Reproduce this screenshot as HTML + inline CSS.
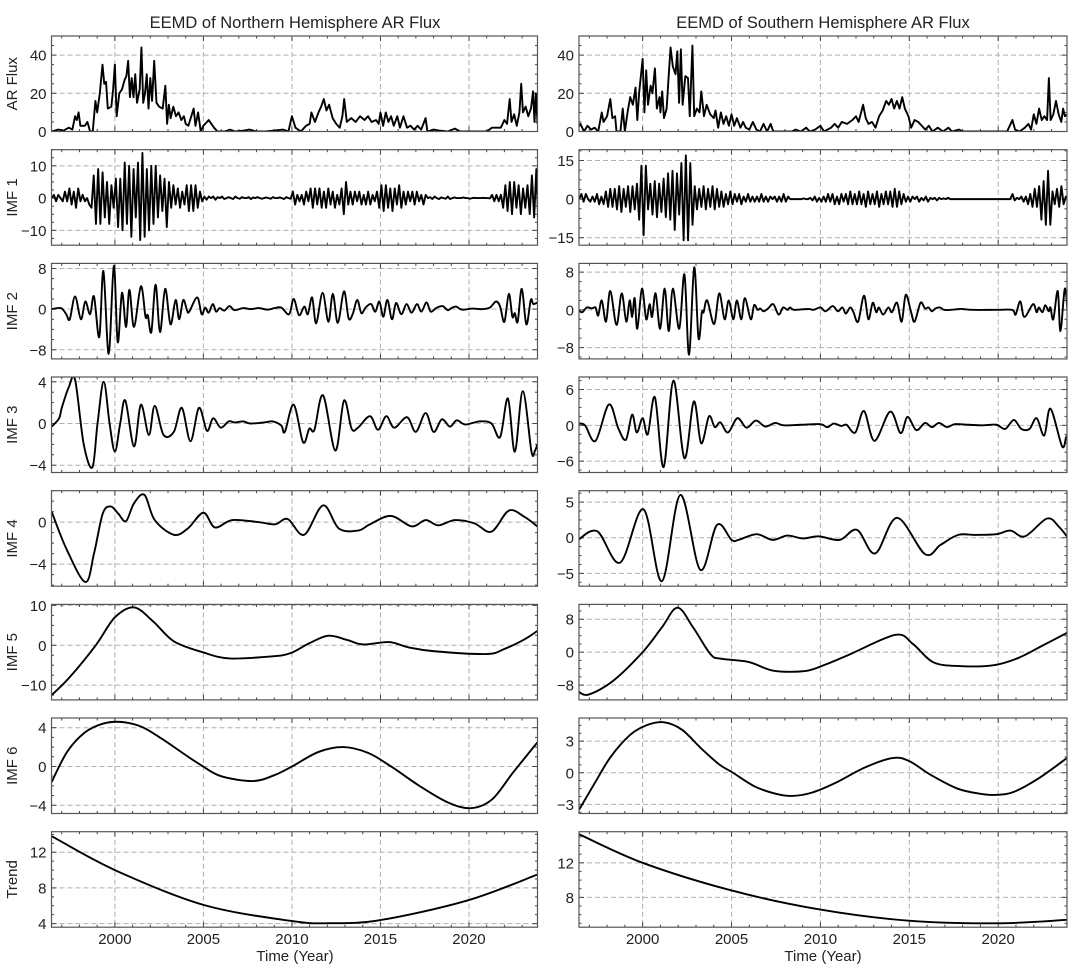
<!DOCTYPE html>
<html><head><meta charset="utf-8"><style>
body{margin:0;background:#fff}
svg text{font-family:"Liberation Sans","DejaVu Sans",sans-serif;fill:#222}
</style></head><body>
<svg id="fig" xmlns="http://www.w3.org/2000/svg" width="1088" height="973" viewBox="0 0 1088 973">
<text x="295" y="28" font-size="16.5" text-anchor="middle">EEMD of Northern Hemisphere AR Flux</text>
<text x="823" y="28" font-size="16.5" text-anchor="middle">EEMD of Southern Hemisphere AR Flux</text>
<text x="295" y="961" font-size="15" text-anchor="middle">Time (Year)</text>
<text x="823" y="961" font-size="15" text-anchor="middle">Time (Year)</text>
</svg>
<script>
// ---- data ----
const xTicks=[2000,2005,2010,2015,2020];
const rowLabels=["AR Flux","IMF 1","IMF 2","IMF 3","IMF 4","IMF 5","IMF 6","Trend"];
const yTicksN=[[0,20,40],[-10,0,10],[-8,0,8],[-4,0,4],[-4,0],[-10,0,10],[-4,0,4],[4,8,12]];
const yTicksS=[[0,20,40],[-15,0,15],[-8,0,8],[-6,0,6],[-5,0,5],[-8,0,8],[-3,0,3],[8,12]];
const yRangeN=[[0,50],[-14.6,15],[-9.8,9],[-4.7,4.46],[-6.1,3],[-13.7,10.25],[-4.85,5],[3.6,14.3]];
const yRangeS=[[0,50],[-17.9,19.2],[-10.4,9.85],[-7.9,8.1],[-6.8,6.6],[-11.6,11.6],[-3.87,5.2],[4.55,15.6]];

const arNT=[1996.43,1996.8,1997.1,1997.4,1997.6,1997.75,1997.85,1997.95,1998.05,1998.3,1998.45,1998.6,1998.75,1998.9,1999.0,1999.15,1999.3,1999.4,1999.5,1999.6,1999.8,1999.9,2000.0,2000.1,2000.25,2000.4,2000.55,2000.65,2000.75,2000.85,2000.95,2001.05,2001.15,2001.25,2001.4,2001.5,2001.6,2001.7,2001.8,2001.9,2002.0,2002.1,2002.22,2002.35,2002.5,2002.7,2002.85,2002.95,2003.05,2003.15,2003.3,2003.45,2003.6,2003.75,2003.9,2004.0,2004.15,2004.45,2004.55,2004.7,2004.85,2005.0,2005.3,2005.6,2005.8,2006.2,2006.5,2006.8,2007.3,2007.6,2008,2008.5,2009,2009.5,2009.8,2010.0,2010.2,2010.5,2010.8,2011.0,2011.1,2011.3,2011.5,2011.65,2011.8,2011.95,2012.1,2012.3,2012.5,2012.7,2012.85,2012.95,2013.1,2013.35,2013.6,2013.85,2014.1,2014.3,2014.5,2014.75,2014.9,2015.0,2015.15,2015.3,2015.45,2015.6,2015.75,2015.95,2016.1,2016.3,2016.5,2016.7,2016.9,2017.1,2017.3,2017.55,2017.65,2018.0,2018.3,2018.8,2019.2,2019.5,2020,2020.5,2021,2021.3,2021.8,2022.0,2022.15,2022.3,2022.4,2022.55,2022.7,2022.85,2022.95,2023.05,2023.2,2023.35,2023.5,2023.62,2023.7,2023.78,2023.87];
const arNV=[0,1,0.5,2,1,8,6,10,3,3,5,0,0,16,10,20,35,25,26,12,13,22,35,8,20,22,27,29,37,18,28,18,30,15,22,44,15,20,30,12,28,16,37,15,13,12,24,4,14,7,13,8,10,6,8,4,3,12,3,10,0,3,6,2,0,0,1,0,0.5,1,0,0,0.5,1,0,8,2,0,3,4,10,5,10,13,17,11,14,7,4,2,8,17,5,7,5,8,6,8,5,6,4,10,3,10,5,8,3,8,2,8,2,3,1,3,1,7,0,1,0.5,0,1.5,0,0,0,0,2,2,6,4,17,5,9,3,10,25,10,13,8,12,21,5,20,4];

const arST=[1996.37,1996.5,1996.7,1996.9,1997.1,1997.3,1997.5,1997.7,1997.8,1998.0,1998.18,1998.3,1998.45,1998.53,1998.75,1998.88,1999.0,1999.15,1999.3,1999.45,1999.6,1999.7,1999.8,2000.0,2000.1,2000.2,2000.3,2000.45,2000.55,2000.69,2000.8,2000.95,2001.0,2001.1,2001.2,2001.35,2001.45,2001.57,2001.7,2001.85,2001.95,2002.05,2002.15,2002.25,2002.4,2002.55,2002.65,2002.8,2002.9,2003.05,2003.2,2003.3,2003.45,2003.6,2003.8,2004.0,2004.1,2004.25,2004.4,2004.55,2004.7,2004.85,2005.0,2005.15,2005.3,2005.5,2005.65,2005.8,2006.0,2006.2,2006.4,2006.6,2006.8,2007.0,2007.2,2007.35,2008,2008.4,2008.6,2008.9,2009.2,2009.4,2009.7,2010.0,2010.2,2010.6,2010.8,2011.0,2011.2,2011.5,2011.8,2012.0,2012.15,2012.4,2012.55,2012.7,2012.9,2013.1,2013.3,2013.5,2013.7,2013.85,2014.0,2014.15,2014.3,2014.45,2014.6,2014.75,2014.95,2015.1,2015.3,2015.5,2015.7,2015.9,2016.1,2016.3,2016.6,2016.9,2017.2,2017.4,2017.8,2018.0,2018.5,2019,2019.5,2020,2020.5,2020.8,2020.95,2021.2,2021.5,2021.7,2021.85,2022.0,2022.15,2022.3,2022.45,2022.6,2022.75,2022.85,2022.95,2023.1,2023.25,2023.4,2023.55,2023.65,2023.75,2023.87];
const arSV=[2,4,0,3,1,2,0,10,5,8,17,7,8,0,0,12,0,10,18,14,23,6,20,38,10,32,14,24,20,33,12,18,10,21,7,12,27,44,34,30,42,15,43,14,29,28,8,45,8,12,10,21,8,14,9,7,11,2,10,4,8,3,9,3,7,2,5,2,1,5,1,0,4,0,4,0,0,0,1,0,2,0,1,3,0,2,4,2,5,4,6,8,5,14,7,4,5,2,8,11,16,14,17,12,16,12,18,12,8,2,6,5,3,1,3,0,2,0,2,0,1,0,0,0,0,0,0,6,1,0,2,4,1,9,4,12,6,8,6,28,6,9,16,9,5,12,8,9];

const imf1Start=1996.43, imf1Step=0.125;
const imf1N=[0,1,-1,1,0,-1,2,-1, 3,-2,2,-3,3,-1,1,-1, 0,-2,-3,7,-8,9,-8,8, -6,5,-8,4,-3,6,-9,6, -10,11,-8,10,-12,9,-6,11, -13,14,-12,9,-10,10,-8,10, -6,7,-4,6,-9,5,-3,4, -2,3,-3,2,-2,4,-4,4, -4,4,-3,2,-1,0.5,-0.5,0.5, 0,0.5,-0.5,0.3,0,0.5,-0.3,0, 0.3,0,-0.3,0.5,0,-0.2,0.3,0, 0,0.3,-0.3,0.2,0,0.3,0,-0.2, 0,0.2,0,-0.2,0.3,0,0,0.2, 0,-0.3,0.3,0,-0.2,2,-2,1, -1,1,-2,2,-1,3,-3,3, -2,3,-3,2,-3,3,-2,2, -3,1,-2,3,-5,5,-2,2, -2,2,-1,2,-2,1,-2,2, -2,1,-1,2,-3,4,-4,4, -3,3,-4,3,-2,4,-3,2, -2,2,-1,2,-2,2,-1,1, -2,1,0,0.3,-0.3,0.5,0,-0.3, 0.2,0,-0.2,0.5,-0.3,0,0.2,0, 0,0,0.2,0,0,-0.2,0,0.1, 0,0,0,0.1,0,0,-0.1,1, -1,1,-1,1,-3,4,-4,5, -5,5,-3,4,-5,3,-3,4, -5,7,-6,9,-10];
const imf1S=[0,2,-1,2,0,-1,1,-1, 2,-2,1,-2,3,-3,4,-3, 4,-4,5,-5,4,-3,5,-5, 5,-4,6,-8,13,-14,13,-4, 6,-6,7,-7,6,-5,8,-7, 10,-8,11,-12,10,-6,14,-16, 17,-16,14,-10,5,-4,4,-3, 5,-4,4,-3,5,-4,4,-3, 3,-3,2,-2,3,-2,2,-1, 2,-2,1,-1,2,-1,1,-1, 1,-1,2,-1,1,-1,1,0, 1,-1,1,-1,2,-1,1,0, 0,0,0,0,0,0.3,0,0, 0.5,-0.5,1,-1,0.5,-1,1,-1, 2,-1,2,-2,1,-2,2,-1, 2,-2,3,-2,2,-2,3,-2, 2,-3,3,-2,2,-2,3,-3, 2,-2,3,-2,3,-3,4,-3, 3,-2,2,-1,1,-1,1,0, 1,-1,0.5,-0.5,1,-1,0.5,0, 0.5,-0.5,0.5,0,0.3,0,0.5,0, 0,0,0,0,0,0,0,0, 0,0,0,0,0,0,0,0, 0,0,0,0,0,0,0,0, 0,0,0,2,-0.5,0.5,0,1, -1,1,-2,2,-3,4,-3,5, -8,7,-10,11,-10,3,-2,4, -3,5,-2,1,0];

const imf2NT=[1996.43,1996.96,1997.25,1997.45,1997.75,1998.08,1998.33,1998.6,1998.82,1999.12,1999.35,1999.65,1999.94,2000.16,2000.4,2000.63,2000.82,2001.08,2001.47,2001.73,2001.86,2002.06,2002.3,2002.55,2002.84,2003.14,2003.43,2003.63,2003.86,2004.08,2004.2,2004.65,2004.9,2005.1,2005.3,2005.53,2005.72,2005.92,2006.18,2006.47,2006.76,2007.25,2007.65,2008.14,2008.63,2009.02,2009.4,2009.84,2010.1,2010.4,2010.7,2010.9,2011.14,2011.37,2011.73,2012.06,2012.31,2012.59,2012.94,2013.2,2013.43,2013.69,2013.92,2014.16,2014.47,2014.71,2014.94,2015.16,2015.39,2015.65,2015.88,2016.18,2016.47,2016.76,2017.06,2017.31,2017.6,2017.84,2018.14,2018.5,2018.8,2019.0,2019.27,2019.6,2020.2,2020.76,2021.18,2021.53,2021.76,2022.0,2022.25,2022.45,2022.59,2022.75,2022.98,2023.24,2023.49,2023.63,2023.86];
const imf2NV=[0,0.2,-1,-2,2.5,-2,1.5,-1,2.5,-5.5,7.5,-8.8,8.5,-6.5,3.2,-3.5,3.8,-3.5,4.5,-1.5,-1.2,-4.5,4.8,-4.5,4,-3,1.8,-2,1.8,-0.3,-0.5,2.3,-1,0.3,-0.7,1,-0.5,0.2,-0.3,0.6,-0.2,0.2,0,0.2,-0.1,0.2,0.3,-1,2,-1.2,0.5,-1,2.3,-2.8,3.2,-2.5,3,-2.7,3.5,-1.8,-1,1.8,-0.8,0.3,1,-0.5,1.5,-1.5,1.8,-2,1.2,-1,1,-0.7,1,-0.5,1.3,-0.5,0.2,0.6,-0.2,0.2,0.5,-0.1,0.1,0,0.3,1.5,0.5,-2.5,3,-1.5,-0.8,-2.5,4,-3,1.8,1,1.3];
const imf2ST=[1996.37,1996.6,1996.86,1997.15,1997.35,1997.5,1997.7,1997.94,1998.18,1998.53,1998.82,1999.08,1999.27,1999.41,1999.55,1999.7,1999.96,2000.2,2000.39,2000.53,2000.73,2000.98,2001.24,2001.47,2001.7,2002.06,2002.35,2002.61,2002.9,2003.14,2003.33,2003.43,2003.63,2004.02,2004.31,2004.61,2004.84,2005.1,2005.3,2005.55,2005.75,2006.08,2006.27,2006.47,2006.61,2006.8,2007.06,2007.35,2007.65,2007.9,2008.14,2008.29,2008.53,2009.31,2009.61,2010.0,2010.29,2010.69,2010.98,2011.24,2011.43,2011.67,2011.86,2012.12,2012.45,2012.7,2012.94,2013.14,2013.29,2013.53,2013.82,2014.02,2014.31,2014.57,2014.8,2015.1,2015.3,2015.63,2015.88,2016.08,2016.27,2016.47,2016.73,2016.96,2017.35,2017.94,2018.53,2019.9,2020.78,2020.98,2021.24,2021.47,2021.96,2022.16,2022.29,2022.49,2022.65,2022.84,2022.94,2023.1,2023.35,2023.5,2023.75,2023.92];
const imf2SV=[0,-0.5,0.5,0.3,0.5,-1.2,2,-2.5,4,-3.2,3.5,-2.5,2,-1.5,2.5,-4,4.5,-2,1.2,-1.5,3.5,-4,4.5,-4.5,4.5,-4,7.5,-9.5,9,-6,-0.5,-0.5,2,-3,3.5,-2,2,-2,2,-2,2.5,-2,1,0,0.3,-0.3,0.3,1.2,-1,0.5,0,0.5,0,0.2,0,0.5,-0.3,0.8,-0.3,0.5,-0.8,0.5,-0.5,-2.5,3,-2,1.5,-0.5,0.5,-1,0.5,-0.5,1.5,-2.5,3.2,-0.5,-2.5,1.5,0.3,0.5,-0.3,0.3,0.5,0,0,0.2,0,0,0,-1,1.8,-1.5,1.2,-0.5,0.5,-0.5,1,-0.3,0.5,-2,4,-4.5,4.5,-1.5];

const imf3NT=[1996.43,1996.85,1997.0,1997.4,1997.75,1998.24,1998.73,1999.02,1999.37,1999.7,2000.0,2000.3,2000.59,2001.08,2001.47,2001.92,2002.25,2002.75,2003.33,2003.78,2004.27,2004.75,2005.2,2005.55,2005.98,2006.43,2006.76,2007.25,2007.65,2008.43,2008.92,2009.4,2009.6,2010.1,2010.63,2010.98,2011.27,2011.76,2012.45,2012.94,2013.37,2013.73,2014.41,2014.86,2015.33,2015.78,2016.5,2017.0,2017.55,2018.0,2018.47,2018.92,2019.31,2019.8,2020.59,2021.27,2021.76,2022.2,2022.59,2023.04,2023.53,2023.73,2023.86];
const imf3NV=[-0.3,0.5,1.5,3.5,4.2,-2,-4.2,0,4,0,-2.7,0,2.2,-2.2,1.8,-1.1,1.7,-1.1,-0.8,1.5,-1.7,1.5,-0.7,0.5,-0.4,0.2,0.1,0.2,0,0.1,0.2,-0.2,-0.8,1.8,-1.8,-0.5,-0.6,2.7,-2.6,2.2,-0.5,-0.4,0.7,-0.6,0.7,-0.4,0.6,-0.8,1,-0.8,0.4,-0.3,0.3,-0.1,0.2,0,-1.3,2.4,-2.7,3.1,-2.7,-2.6,-2];
const imf3ST=[1996.37,1996.76,1997.35,1998.1,1998.63,1999.06,1999.41,1999.67,2000.0,2000.29,2000.69,2001.18,2001.73,2002.35,2002.88,2003.29,2003.73,2004.06,2004.37,2004.8,2005.33,2005.84,2006.37,2006.9,2007.45,2007.94,2008.92,2010.0,2010.39,2010.75,2011.18,2011.47,2011.96,2012.45,2013.04,2013.92,2014.51,2014.9,2015.39,2015.88,2016.27,2016.67,2017.12,2017.55,2018.33,2019.12,2019.9,2020.39,2020.88,2021.3,2021.76,2022.16,2022.59,2022.94,2023.59,2023.82,2023.92];
const imf3SV=[0.3,0,-2.6,3.5,-0.5,-2.4,1.8,-1.2,1.2,-1.5,4.7,-7,7.5,-5.5,4,-3,1.5,-0.3,0.5,-1.2,1.2,-0.4,0.8,-0.2,0.4,0,0.1,0.2,-0.3,0.3,-0.1,0.1,-1.2,2.4,-2.6,2.3,-1.3,1.4,-0.8,0.4,-0.3,0.4,-0.3,0.2,0.1,0,0.1,-0.6,0.9,-0.6,-0.6,1.2,-1.7,2.8,-3.5,-2,-1.5];

const imf4NT=[1996.43,1997.25,1998.33,1998.82,1999.31,1999.76,2000.2,2000.63,2001.08,2001.67,2002.25,2003.33,2004.12,2005.0,2005.65,2006.63,2008.14,2009.06,2009.76,2010.69,2011.76,2012.65,2013.73,2014.41,2015.59,2016.76,2017.55,2018.27,2019.2,2020.29,2021.27,2022.25,2023.14,2023.86];
const imf4NV=[1,-2.5,-5.7,-3,0.8,1.5,0.8,0.1,1.8,2.6,0.2,-1.2,-0.6,0.9,-0.5,0.2,0,-0.2,0.3,-1.2,1.6,-0.6,-0.8,-0.2,0.6,-0.4,0.2,-0.3,0.2,-0.1,-0.9,1.1,0.5,-0.4];
const imf4ST=[1996.37,1997.45,1998.73,2000.04,2001.08,2002.12,2003.24,2004.18,2005.0,2005.39,2006.41,2007.31,2008.14,2009.02,2009.9,2011.08,2012.06,2013.08,2014.31,2015.88,2016.76,2017.75,2018.73,2019.9,2020.69,2021.51,2022.75,2023.43,2023.92];
const imf4SV=[-0.3,0.9,-3.5,4,-6.1,6,-4.5,1.8,-0.3,-0.3,0.5,-0.3,0.3,-0.1,0.2,-0.3,1.1,-2.2,2.8,-2.3,-1,0.4,0.4,0.5,1.0,0.2,2.7,1.5,0];

const imf5NT=[1996.43,1997.45,1998.92,2000.0,2001.08,2002.16,2003.33,2005.0,2006.47,2008.82,2009.9,2010.98,2012.06,2013.14,2014.02,2015.49,2016.57,2018.04,2020.98,2021.96,2023.14,2023.86];
const imf5NV=[-12.5,-8,0,7,9.5,6,1,-1.8,-3.3,-2.8,-2,0.5,2.4,1.3,0.2,0.8,-0.5,-1.5,-2.2,-1,1.5,3.6];
const imf5ST=[1996.37,1996.96,1998.33,2000.0,2001.08,2001.96,2002.84,2003.82,2004.41,2005.98,2007.35,2009.12,2010.29,2011.67,2014.22,2015.2,2016.37,2017.94,2019.71,2021.08,2022.45,2023.92];
const imf5SV=[-9.5,-10.3,-7,0,6,10.8,6,-0.5,-1.6,-2.4,-4.5,-4.6,-3,-0.5,4.2,2,-2.5,-3.4,-3.2,-1.5,1.5,4.8];

const imf6NT=[1996.43,1997.3,1998.3,1999.3,2000.3,2001.5,2002.7,2003.9,2004.9,2006.0,2007.8,2009.0,2010.0,2011.5,2012.9,2014.3,2015.6,2017.2,2018.8,2020.1,2021.3,2022.5,2023.87];
const imf6NV=[-1.6,1.5,3.5,4.4,4.6,4.1,2.8,1.3,0.1,-1.0,-1.5,-0.9,0.0,1.5,2.0,1.4,0.0,-2.0,-3.7,-4.3,-3.4,-0.6,2.5];
const imf6ST=[1996.43,1997.3,1998.2,1999.3,2000.2,2001.17,2002.2,2003.3,2004.3,2005.08,2006.3,2007.5,2008.4,2009.5,2010.8,2012.5,2014.06,2015.0,2016.2,2017.7,2019.0,2019.92,2020.9,2022.3,2023.87];
const imf6SV=[-3.5,-1.0,1.5,3.6,4.5,4.8,4.1,2.3,0.8,0.0,-1.3,-2.0,-2.2,-1.9,-1.0,0.5,1.4,1.1,-0.2,-1.5,-2.0,-2.1,-1.8,-0.5,1.4];

const trendNT=[1996.43,2000,2005,2009.96,2012.1,2015,2019.92,2023.87];
const trendNV=[13.8,10,6.1,4.3,4.05,4.4,6.6,9.5];
const trendST=[1996.43,2000,2005,2009.96,2014.96,2019.92,2023.87];
const trendSV=[15.3,12.0,8.8,6.6,5.3,5.0,5.4];

// ---- layout ----
const X0=1996.42,X1=2023.87;
const cols=[{l:51.5,r:537.5},{l:579,r:1067}];
const rowTop=[36,149.7,263.4,377,490.7,604.4,718,831.7], rowH=95.5;
const NS="http://www.w3.org/2000/svg";
const svg=document.getElementById('fig');
function mk(tag,attrs,parent){const e=document.createElementNS(NS,tag);for(const k in attrs)e.setAttribute(k,attrs[k]);(parent||svg).appendChild(e);return e;}

function xFn(c){return t=>cols[c].l+(t-X0)/(X1-X0)*(cols[c].r-cols[c].l);}
function yFn(r,range){return v=>rowTop[r]+rowH-(v-range[0])/(range[1]-range[0])*rowH;}

function linePath(ts,vs,xf,yf){return ts.map((t,i)=>(i?'L':'M')+xf(t).toFixed(2)+' '+yf(vs[i]).toFixed(2)).join('');}
function smoothPath(ts,vs,xf,yf){
  const p=ts.map((t,i)=>[xf(t),yf(vs[i])]);
  let d='M'+p[0][0].toFixed(2)+' '+p[0][1].toFixed(2);
  for(let i=0;i<p.length-1;i++){
    const p0=p[Math.max(0,i-1)],p1=p[i],p2=p[i+1],p3=p[Math.min(p.length-1,i+2)];
    const c1=[p1[0]+(p2[0]-p0[0])/6,p1[1]+(p2[1]-p0[1])/6];
    const c2=[p2[0]-(p3[0]-p1[0])/6,p2[1]-(p3[1]-p1[1])/6];
    d+='C'+c1[0].toFixed(2)+' '+c1[1].toFixed(2)+' '+c2[0].toFixed(2)+' '+c2[1].toFixed(2)+' '+p2[0].toFixed(2)+' '+p2[1].toFixed(2);
  }
  return d;
}
function idxTimes(vals){return vals.map((v,i)=>imf1Start+i*imf1Step);}

const series=[
 [[arNT,arNV,false],[arST,arSV,false]],
 [[idxTimes(imf1N),imf1N,false],[idxTimes(imf1S),imf1S,false]],
 [[imf2NT,imf2NV,true],[imf2ST,imf2SV,true]],
 [[imf3NT,imf3NV,true],[imf3ST,imf3SV,true]],
 [[imf4NT,imf4NV,true],[imf4ST,imf4SV,true]],
 [[imf5NT,imf5NV,true],[imf5ST,imf5SV,true]],
 [[imf6NT,imf6NV,true],[imf6ST,imf6SV,true]],
 [[trendNT,trendNV,true],[trendST,trendSV,true]]
];
const defs=mk('defs',{});
for(let c=0;c<2;c++){
  const xf=xFn(c);const L=cols[c].l,R=cols[c].r;
  for(let r=0;r<8;r++){
    const range=c?yRangeS[r]:yRangeN[r], ticks=c?yTicksS[r]:yTicksN[r];
    const yf=yFn(r,range);const T=rowTop[r],B=T+rowH;
    const hemi=c?'south':'north';
    const g=mk('g',{});
    
    
    const cid='clip'+c+'_'+r;
    const cp=mk('clipPath',{id:cid},defs);mk('rect',{x:L,y:T,width:R-L,height:rowH},cp);
    xTicks.forEach(t=>{const gl=mk('line',{x1:xf(t),x2:xf(t),y1:T,y2:B,stroke:'#b0b0b0','stroke-width':1,'stroke-dasharray':'5,3'},g);
      });
    ticks.forEach(v=>{const gl=mk('line',{x1:L,x2:R,y1:yf(v),y2:yf(v),stroke:'#b0b0b0','stroke-width':1,'stroke-dasharray':'5,3'},g);
      });
    for(let yr=1997;yr<=2023;yr++){
      const maj=yr%5===0;const len=maj?5:2.5;const x=xf(yr);
      mk('line',{x1:x,x2:x,y1:B,y2:B-len,stroke:'#444','stroke-width':1},g);
      mk('line',{x1:x,x2:x,y1:T,y2:T+len,stroke:'#444','stroke-width':1},g);
    }
    const step=ticks.length>1?(ticks[1]-ticks[0]):4;const minor=step/4;
    for(let v=Math.ceil(range[0]/minor)*minor;v<=range[1];v+=minor){
      const maj=Math.abs(v/step-Math.round(v/step))<1e-6;const len=maj?5:2.5;const y=yf(v);
      mk('line',{x1:L,x2:L+len,y1:y,y2:y,stroke:'#444','stroke-width':1},g);
      mk('line',{x1:R,x2:R-len,y1:y,y2:y,stroke:'#444','stroke-width':1},g);
    }
    ticks.forEach(v=>{const tx=mk('text',{x:L-5,y:yf(v)+5.5,'font-size':15,'text-anchor':'end'},g);tx.textContent=(v<0?'\u2212'+(-v):v);
      });
    const [ts,vs,sm]=series[r][c];
    const d=sm?smoothPath(ts,vs,xf,yf):linePath(ts,vs,xf,yf);
    const pth=mk('path',{d:d,fill:'none',stroke:'#000','stroke-width':1.9,'stroke-linejoin':'round','clip-path':'url(#'+cid+')'},g);
    
    
    const fr=mk('rect',{x:L,y:T,width:R-L,height:rowH,fill:'none',stroke:'#555','stroke-width':1.2},g);
    
    if(c===0){const yl=mk('text',{x:0,y:0,'font-size':15,'text-anchor':'middle',transform:'translate(17,'+(T+rowH/2)+') rotate(-90)'},g);
      yl.textContent=rowLabels[r];}
    if(r===7){xTicks.forEach(t=>{const tx=mk('text',{x:xf(t),y:B+17,'font-size':15,'text-anchor':'middle'},g);tx.textContent=t;
      });}
  }
}
</script>
</body></html>
